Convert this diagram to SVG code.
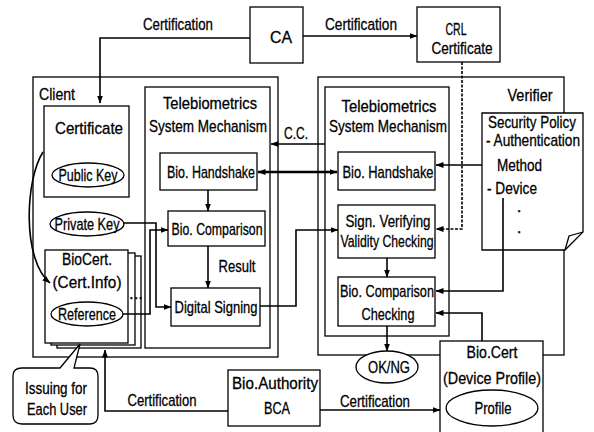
<svg xmlns="http://www.w3.org/2000/svg" width="594" height="432" viewBox="0 0 594 432">
<style>
.b{fill:#fff;stroke:#000;stroke-width:1.3}
.n{fill:none;stroke:#000;stroke-width:1.3}
.c{fill:none;stroke:#000;stroke-width:1.6}
.t{font-family:"Liberation Sans",Arial,sans-serif;font-size:17px;fill:#000;stroke:#000;stroke-width:0.3;text-anchor:middle;dominant-baseline:central}
.s{text-anchor:start}
</style>
<defs>
<marker id="a" viewBox="0 0 8 6" refX="7.5" refY="3" markerWidth="8" markerHeight="6" markerUnits="userSpaceOnUse" orient="auto-start-reverse"><path d="M0,0 L8,3 L0,6 z" fill="#000"/></marker>
</defs>
<rect width="594" height="432" fill="#fff"/>

<g id="client">
<rect class="b" x="33" y="77" width="245" height="280"/>
<text class="t s" x="39" y="94" textLength="36" lengthAdjust="spacingAndGlyphs">Client</text>
</g>
<g id="verifier">
<rect class="b" x="318" y="77" width="246" height="278"/>
<text class="t" x="530" y="95" textLength="45" lengthAdjust="spacingAndGlyphs">Verifier</text>
</g>

<g id="ca">
<rect class="b" x="250" y="7" width="53" height="56"/>
<text class="t" x="281" y="37" textLength="22" lengthAdjust="spacingAndGlyphs">CA</text>
</g>
<g id="crl">
<rect class="b" x="417" y="7" width="83" height="55"/>
<text class="t" x="456" y="29" textLength="21" lengthAdjust="spacingAndGlyphs">CRL</text>
<text class="t" x="462" y="48" textLength="61" lengthAdjust="spacingAndGlyphs">Certificate</text>
</g>

<g id="client-mech">
<rect class="b" x="145" y="87" width="125" height="261"/>
<text class="t" x="210" y="103" textLength="94" lengthAdjust="spacingAndGlyphs">Telebiometrics</text>
<text class="t" x="208" y="126" textLength="118" lengthAdjust="spacingAndGlyphs">System Mechanism</text>
</g>
<g id="verifier-mech">
<rect class="b" x="325" y="87" width="124" height="249"/>
<text class="t" x="389" y="106" textLength="95" lengthAdjust="spacingAndGlyphs">Telebiometrics</text>
<text class="t" x="388" y="126" textLength="118" lengthAdjust="spacingAndGlyphs">System Mechanism</text>
</g>

<g id="certificate">
<rect class="b" x="44" y="106" width="85" height="91"/>
<text class="t" x="89" y="128" textLength="68" lengthAdjust="spacingAndGlyphs">Certificate</text>
<ellipse class="b" cx="88" cy="175" rx="36" ry="12"/>
<text class="t" x="88" y="175" textLength="59" lengthAdjust="spacingAndGlyphs">Public Key</text>
</g>
<g id="private-key">
<ellipse class="b" cx="87" cy="224" rx="37" ry="12"/>
<text class="t" x="87" y="224" textLength="65" lengthAdjust="spacingAndGlyphs">Private Key</text>
</g>
<g id="biocert">
<rect class="b" x="57" y="256" width="84" height="92"/>
<rect class="b" x="51" y="253" width="84" height="92"/>
<rect class="b" x="45" y="250" width="83" height="93"/>
<text class="t" x="87" y="259" textLength="50" lengthAdjust="spacingAndGlyphs">BioCert.</text>
<text class="t" x="87" y="282" textLength="69" lengthAdjust="spacingAndGlyphs">(Cert.Info)</text>
<ellipse class="b" cx="87" cy="314" rx="36" ry="12"/>
<text class="t" x="87" y="314" textLength="58" lengthAdjust="spacingAndGlyphs">Reference</text>
<text class="t" x="136" y="293">...</text>
</g>

<g id="c-handshake">
<rect class="b" x="160" y="153" width="97" height="37"/>
<text class="t" x="211" y="172" textLength="88" lengthAdjust="spacingAndGlyphs">Bio. Handshake</text>
</g>
<g id="c-comparison">
<rect class="b" x="168" y="211" width="97" height="35"/>
<text class="t" x="217" y="229" textLength="91" lengthAdjust="spacingAndGlyphs">Bio. Comparison</text>
</g>
<g id="c-signing">
<rect class="b" x="171" y="288" width="89" height="38"/>
<text class="t" x="216" y="307" textLength="83" lengthAdjust="spacingAndGlyphs">Digital Signing</text>
</g>
<text class="t" x="237" y="266" textLength="37" lengthAdjust="spacingAndGlyphs">Result</text>

<g id="v-handshake">
<rect class="b" x="338" y="152" width="97" height="38"/>
<text class="t" x="388" y="172" textLength="91" lengthAdjust="spacingAndGlyphs">Bio. Handshake</text>
</g>
<g id="v-sign">
<rect class="b" x="338" y="205" width="97" height="53"/>
<text class="t" x="388" y="221" textLength="85" lengthAdjust="spacingAndGlyphs">Sign. Verifying</text>
<text class="t" x="387" y="241" textLength="93" lengthAdjust="spacingAndGlyphs">Validity Checking</text>
</g>
<g id="v-comparison">
<rect class="b" x="338" y="277" width="97" height="49"/>
<text class="t" x="387" y="291" textLength="94" lengthAdjust="spacingAndGlyphs">Bio. Comparison</text>
<text class="t" x="388" y="314" textLength="53" lengthAdjust="spacingAndGlyphs">Checking</text>
</g>
<g id="okng">
<ellipse class="b" cx="387" cy="367" rx="31" ry="16"/>
<text class="t" x="389" y="367" textLength="42" lengthAdjust="spacingAndGlyphs">OK/NG</text>
</g>

<g id="policy">
<path class="b" d="M482,113 H583 V232 L565,250 H482 Z"/>
<path class="n" d="M565,250 L569,236 L583,232"/>
<text class="t" x="532" y="122" textLength="88" lengthAdjust="spacingAndGlyphs">Security Policy</text>
<text class="t s" x="486" y="140" textLength="94" lengthAdjust="spacingAndGlyphs">- Authentication</text>
<text class="t s" x="497" y="165" textLength="45" lengthAdjust="spacingAndGlyphs">Method</text>
<text class="t s" x="487" y="188" textLength="50" lengthAdjust="spacingAndGlyphs">- Device</text>
<text class="t" x="519" y="206">.</text>
<text class="t" x="519" y="227">.</text>
</g>

<g id="devcert">
<rect class="b" x="440" y="341" width="103" height="100"/>
<text class="t" x="492" y="352" textLength="51" lengthAdjust="spacingAndGlyphs">Bio.Cert</text>
<text class="t" x="492" y="378" textLength="98" lengthAdjust="spacingAndGlyphs">(Device Profile)</text>
<ellipse class="b" cx="492" cy="408" rx="46" ry="18"/>
<text class="t" x="493" y="408" textLength="37" lengthAdjust="spacingAndGlyphs">Profile</text>
</g>

<g id="bca">
<rect class="b" x="228" y="370" width="92" height="56"/>
<text class="t" x="275" y="383" textLength="86" lengthAdjust="spacingAndGlyphs">Bio.Authority</text>
<text class="t" x="277" y="408" textLength="26" lengthAdjust="spacingAndGlyphs">BCA</text>
</g>

<g id="callout">
<path class="b" d="M22,368 H60 L80,344 L74,368 H90 Q98,368 98,376 V415 Q98,424 90,424 H22 Q13,424 13,415 V376 Q13,368 22,368 Z"/>
<text class="t" x="56" y="388" textLength="62" lengthAdjust="spacingAndGlyphs">Issuing for</text>
<text class="t" x="57" y="409" textLength="60" lengthAdjust="spacingAndGlyphs">Each User</text>
</g>

<g id="connectors">
<path class="c" d="M250,38 H100 V103" marker-end="url(#a)"/>
<path class="c" d="M303,36 H417" marker-end="url(#a)"/>
<path class="c" d="M43,152 C25,180 22,260 50,283" marker-end="url(#a)"/>
<path class="c" d="M123,223 H156 V307 H171" marker-end="url(#a)"/>
<path class="c" d="M123,314 H150 V230 H168" marker-end="url(#a)"/>
<path class="c" d="M208,190 V211" marker-end="url(#a)"/>
<path class="c" d="M208,246 V288" marker-end="url(#a)"/>
<path class="c" d="M325,144 H271" marker-end="url(#a)"/>
<path class="c" style="stroke-width:2.4" d="M258,172 H337" marker-start="url(#a)" marker-end="url(#a)"/>
<path class="c" d="M260,306 H296 V230 H338" marker-end="url(#a)"/>
<path class="c" stroke-dasharray="3,1.5" d="M462,62 V229 H436" marker-end="url(#a)"/>
<path class="c" d="M482,165 H436" marker-end="url(#a)"/>
<path class="c" d="M503,198 V291 H436" marker-end="url(#a)"/>
<path class="c" d="M482,341 V313 H436" marker-end="url(#a)"/>
<path class="c" d="M387,258 V277" marker-end="url(#a)"/>
<path class="c" d="M387,326 V351" marker-end="url(#a)"/>
<path class="c" d="M320,410 H440" marker-end="url(#a)"/>
<path class="c" d="M228,411 H105 V350" marker-end="url(#a)"/>
</g>

<g id="labels">
<text class="t" x="178" y="24" textLength="70" lengthAdjust="spacingAndGlyphs">Certification</text>
<text class="t" x="361" y="24" textLength="72" lengthAdjust="spacingAndGlyphs">Certification</text>
<text class="t" x="296" y="133" textLength="24" lengthAdjust="spacingAndGlyphs">C.C.</text>
<text class="t" x="162" y="400" textLength="69" lengthAdjust="spacingAndGlyphs">Certification</text>
<text class="t" x="375" y="401" textLength="70" lengthAdjust="spacingAndGlyphs">Certification</text>
</g>
</svg>
